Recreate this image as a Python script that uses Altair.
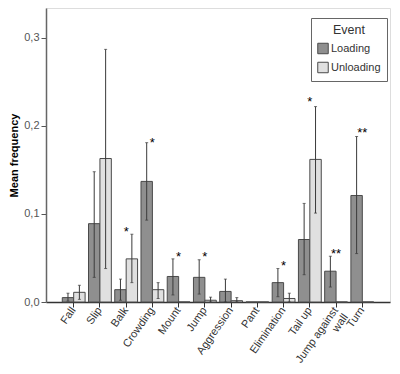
import altair as alt
import pandas as pd

categories = ["Fall", "Slip", "Balk", "Crowding", "Mount", "Jump", "Aggression",
              "Pant", "Elimination", "Tail up", "Jump against wall", "Turn"]
events = ["Loading", "Unloading"]

loading_mean = [0.005, 0.089, 0.014, 0.137, 0.029, 0.028, 0.012, 0.0, 0.022, 0.071, 0.035, 0.121]
loading_lo = [0.001, 0.028, 0.002, 0.093, 0.008, 0.009, 0.0, 0.0, 0.006, 0.031, 0.017, 0.055]
loading_hi = [0.010, 0.148, 0.026, 0.181, 0.049, 0.048, 0.026, 0.0, 0.038, 0.112, 0.052, 0.188]

unloading_mean = [0.011, 0.163, 0.049, 0.014, 0.0, 0.002, 0.0015, 0.0, 0.004, 0.162, 0.0, 0.0]
unloading_lo = [0.003, 0.038, 0.022, 0.004, 0.0, 0.0, 0.0, 0.0, 0.0, 0.101, 0.0, 0.0]
unloading_hi = [0.019, 0.287, 0.077, 0.022, 0.0, 0.0055, 0.005, 0.0, 0.010, 0.222, 0.0, 0.0]

star_cats = ["Balk", "Crowding", "Mount", "Jump", "Elimination", "Tail up", "Jump against wall", "Turn"]
star_text = ["*", "*", "*", "*", "*", "*", "**", "**"]
star_y = [0.083, 0.184, 0.054, 0.054, 0.044, 0.231, 0.0576, 0.195]

colors = ["#8f8f8f", "#e0e0e0"]

rows = []
for i, c in enumerate(categories):
    rows.append({"cat": c, "event": "Loading", "mean": loading_mean[i], "lo": loading_lo[i], "hi": loading_hi[i]})
    rows.append({"cat": c, "event": "Unloading", "mean": unloading_mean[i], "lo": unloading_lo[i], "hi": unloading_hi[i]})
df = pd.DataFrame(rows)
err = df[df["hi"] > 0]
stars = pd.DataFrame({"cat": star_cats, "txt": star_text, "y": star_y})

yscale = alt.Scale(domain=[0, 0.334], nice=False, zero=True)
xenc = alt.X("cat:N", sort=categories,
             scale=alt.Scale(paddingInner=0.13, paddingOuter=0.62),
             axis=alt.Axis(title=None, labelAngle=-55, labelFontSize=11, labelColor="#333",
                           labelFont="Liberation Sans", tickSize=5, tickColor="#333",
                           labelPadding=1, domainColor="#333", domainWidth=1.5,
                           labelLineHeight=12,
                           labelExpr="datum.label == 'Jump against wall' ? ['Jump against', 'wall'] : datum.label"))
xoff = alt.XOffset("event:N", sort=events, scale=alt.Scale(paddingInner=0, paddingOuter=0))

bars = alt.Chart(df).mark_bar(stroke="#4a4a4a", strokeWidth=1).encode(
    x=xenc,
    xOffset=xoff,
    y=alt.Y("mean:Q", scale=yscale,
            axis=alt.Axis(title="Mean frequency", values=[0, 0.1, 0.2, 0.3],
                          labelExpr="replace(format(datum.value, '.1f'), '.', ',')",
                          labelFontSize=11, labelColor="#555", labelFont="Liberation Sans",
                          tickSize=5, tickColor="#555", domainColor="#666", domainWidth=1.5,
                          grid=False, titleFont="Liberation Sans", titleFontSize=11,
                          titleFontWeight="bold", titleColor="#000", titlePadding=4)),
    color=alt.Color("event:N", sort=events, scale=alt.Scale(domain=events, range=colors),
                    legend=alt.Legend(title="Event", orient="none", legendX=265, legendY=10,
                                      strokeColor="#666", padding=6, titleAnchor="middle",
                                      titleFont="Liberation Sans", titleFontSize=12.5,
                                      titleFontWeight="normal", titleColor="#333", titlePadding=6,
                                      labelFont="Liberation Sans", labelFontSize=11,
                                      labelColor="#333", symbolType="square", symbolSize=110,
                                      symbolStrokeColor="#4a4a4a", symbolStrokeWidth=1,
                                      symbolOffset=0, rowPadding=3, labelOffset=2)),
)

rules = alt.Chart(err).mark_rule(color="#3a3a3a", strokeWidth=1).encode(
    x=xenc, xOffset=xoff, y=alt.Y("lo:Q", scale=yscale), y2="hi:Q")
cap_hi = alt.Chart(err).mark_tick(color="#3a3a3a", size=3, thickness=1, orient="horizontal").encode(
    x=xenc, xOffset=xoff, y=alt.Y("hi:Q", scale=yscale))
cap_lo = alt.Chart(err).mark_tick(color="#3a3a3a", size=3, thickness=1, orient="horizontal").encode(
    x=xenc, xOffset=xoff, y=alt.Y("lo:Q", scale=yscale))

star_layer = alt.Chart(stars).mark_text(fontSize=13, font="Liberation Sans", color="#000",
                                        baseline="middle", dy=3).encode(
    x=alt.X("cat:N", sort=categories), y=alt.Y("y:Q", scale=yscale), text="txt:N")

chart = alt.layer(bars, rules, cap_hi, cap_lo, star_layer).properties(
    width=344, height=294,
    autosize=alt.AutoSizeParams(type="none"),
    padding={"left": 38, "top": 0, "right": 2, "bottom": 62},
).configure_view(stroke="#666", strokeWidth=1.5).configure(background="white")

chart.save("out.html", embed_options={"renderer": "svg", "actions": False})
